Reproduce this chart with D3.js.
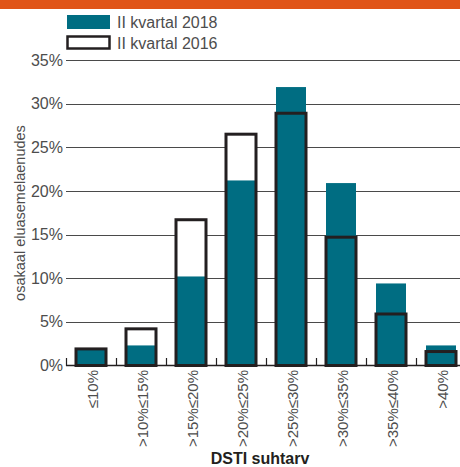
<!DOCTYPE html>
<html>
<head>
<meta charset="utf-8">
<script src="https://cdn.jsdelivr.net/npm/d3@7"></script>
<style>
  html, body { margin: 0; padding: 0; background: #fff; }
  svg { display: block; font-family: "Liberation Sans", Arial, sans-serif; }
</style>
</head>
<body>
<svg id="chart" width="460" height="467"></svg>
<script>
// DSTI groups (debt service to income ratio)
const categories = ["≤10%", ">10%≤15%", ">15%≤20%", ">20%≤25%", ">25%≤30%", ">30%≤35%", ">35%≤40%", ">40%"];
// Share of housing loans, %
const q2_2018 = [1.8, 2.3, 10.2, 21.2, 31.9, 20.9, 9.4, 2.3];
const q2_2016 = [1.9, 4.2, 16.7, 26.5, 28.9, 14.7, 5.9, 1.6];
const yTicks = [0, 5, 10, 15, 20, 25, 30, 35];
const seriesNames = ["II kvartal 2018", "II kvartal 2016"];

const teal = "#006d82";
const ink = "#231f20";
const textGrey = "#4d4d4d";

const svg = d3.select("#chart");

// top accent band
svg.append("rect").attr("x", 0).attr("y", 0).attr("width", 460).attr("height", 9).attr("fill", "#e05418");

const x = d3.scaleBand().domain(categories).range([66, 466]).paddingInner(0.4).paddingOuter(0.2);
const y = d3.scaleLinear().domain([0, 35]).range([365.5, 60]);

// horizontal gridlines
svg.append("g").selectAll("line").data(yTicks.filter(d => d > 0)).join("line")
  .attr("x1", 66).attr("x2", 460)
  .attr("y1", d => Math.round(y(d)) + 0.5).attr("y2", d => Math.round(y(d)) + 0.5)
  .attr("stroke", "#4a4a4a").attr("stroke-width", 1);

// y tick labels
svg.append("g").selectAll("text").data(yTicks).join("text")
  .attr("x", 63).attr("y", d => y(d)).attr("dy", "0.35em")
  .attr("text-anchor", "end").attr("font-size", 16).attr("fill", textGrey)
  .text(d => d + "%");

// y axis title
svg.append("text")
  .attr("transform", "translate(20," + 213 + ") rotate(-90)")
  .attr("dy", "0.35em")
  .attr("text-anchor", "middle").attr("font-size", 14.5).attr("fill", textGrey)
  .text("osakaal eluasemelaenudes");

// 2016 bars: white fill underneath
const bw = x.bandwidth();
svg.append("g").selectAll("rect").data(q2_2016).join("rect")
  .attr("x", (d, i) => x(categories[i])).attr("width", bw)
  .attr("y", d => y(d)).attr("height", d => y(0) - y(d))
  .attr("fill", "#fff");

// 2018 bars
svg.append("g").selectAll("rect").data(q2_2018).join("rect")
  .attr("x", (d, i) => x(categories[i])).attr("width", bw)
  .attr("y", d => y(d)).attr("height", d => y(0) - y(d))
  .attr("fill", teal);

// x baseline and category boundary ticks
svg.append("line").attr("x1", 66).attr("x2", 460).attr("y1", 365.5).attr("y2", 365.5)
  .attr("stroke", ink).attr("stroke-width", 1.5);
const step = x.step();
svg.append("g").selectAll("line").data(d3.range(categories.length)).join("line")
  .attr("x1", i => 66.5 + i * step).attr("x2", i => 66.5 + i * step)
  .attr("y1", 358).attr("y2", 366)
  .attr("stroke", ink).attr("stroke-width", 1.2);

// 2016 bars: outline on top
svg.append("g").selectAll("rect").data(q2_2016).join("rect")
  .attr("x", (d, i) => x(categories[i])).attr("width", bw)
  .attr("y", d => y(d)).attr("height", d => y(0) - y(d))
  .attr("fill", "none").attr("stroke", ink).attr("stroke-width", 3);

// x category labels, rotated
svg.append("g").selectAll("text").data(categories).join("text")
  .attr("transform", d => "translate(" + (x(d) + bw / 2 + 2) + ",370) rotate(-90)")
  .attr("dy", "0.35em")
  .attr("text-anchor", "end").attr("font-size", 15).attr("fill", textGrey)
  .text(d => d);

// x axis title
svg.append("text").attr("x", 260).attr("y", 463.5)
  .attr("text-anchor", "middle").attr("font-size", 16).attr("font-weight", "bold").attr("fill", ink)
  .text("DSTI suhtarv");

// legend
const lg = svg.append("g");
lg.append("rect").attr("x", 67).attr("y", 15).attr("width", 43).attr("height", 14).attr("fill", teal);
lg.append("rect").attr("x", 67.5).attr("y", 36.5).attr("width", 42).attr("height", 12)
  .attr("fill", "#fff").attr("stroke", ink).attr("stroke-width", 2.5);
lg.selectAll("text").data(seriesNames).join("text")
  .attr("x", 117).attr("y", (d, i) => 22 + i * 21).attr("dy", "0.35em")
  .attr("font-size", 16).attr("fill", textGrey)
  .text(d => d);
</script>
</body>
</html>
